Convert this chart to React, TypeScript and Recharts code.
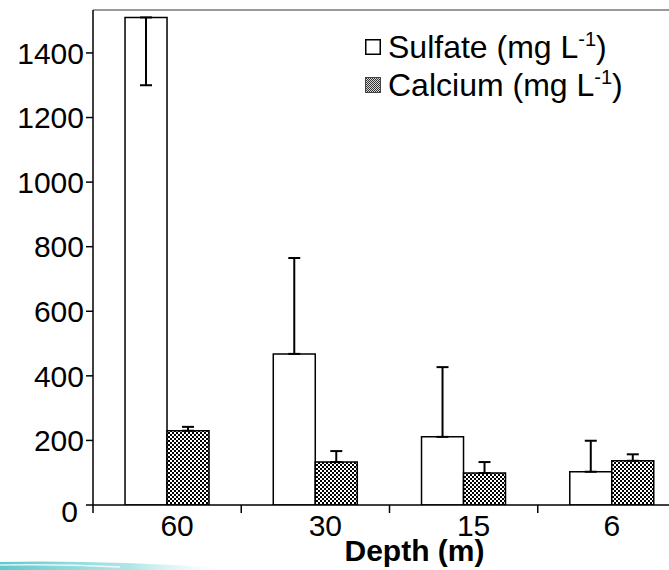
import { BarChart, Bar, XAxis, YAxis, ErrorBar, Legend, ReferenceLine } from "recharts";

const DEPTHS = ["60", "30", "15", "6"];
const SULFATE = [1510, 468, 211, 103];
const SULFATE_ERR: [number, number][] = [[210, 0], [0, 297], [0, 216], [0, 96]];
const CALCIUM = [230, 133, 99, 137];
const CALCIUM_ERR: [number, number][] = [[0, 12], [0, 34], [0, 34], [0, 20]];
const Y_TICKS = [0, 200, 400, 600, 800, 1000, 1200, 1400];
const Y_MAX = 1533;

const FONT = "Arial, 'Liberation Sans', sans-serif";

const data = DEPTHS.map((d, i) => ({
  depth: d,
  sulfate: SULFATE[i],
  sulfateErr: SULFATE_ERR[i],
  calcium: CALCIUM[i],
  calciumErr: CALCIUM_ERR[i],
}));

function YTick(props: any) {
  const { x, y, payload } = props;
  const isZero = payload.value === 0;
  return (
    <text
      x={isZero ? x - 6 : x}
      y={isZero ? y + 6 : y}
      dy="0.36em"
      textAnchor="end"
      fontSize={30}
      fontFamily={FONT}
      fill="#000"
    >
      {payload.value}
    </text>
  );
}

function XTick(props: any) {
  const { x, y, payload } = props;
  const half = payload.offset ?? 74;
  // the two-digit labels sit a little right of the category centre
  const shift = String(payload.value).length > 1 ? 10 : 0;
  return (
    <g>
      <line x1={x - half} y1={y - 10} x2={x - half} y2={y - 2} stroke="#000" strokeWidth={1.5} />
      <text x={x + shift} y={y} dy="0.7em" textAnchor="middle" fontSize={30} fontFamily={FONT} fill="#000">
        {payload.value}
      </text>
    </g>
  );
}

function LegendBox() {
  const row = { display: "flex", alignItems: "center", height: 38, whiteSpace: "nowrap" as const };
  const txt = { fontFamily: FONT, fontSize: 32, color: "#000", marginLeft: 7 };
  const sup = { fontSize: 20, verticalAlign: "super", lineHeight: 0 };
  return (
    <div>
      <div style={row}>
        <svg width={16} height={16}>
          <rect x={0.75} y={0.75} width={14.5} height={14.5} fill="#fff" stroke="#000" strokeWidth={1.5} />
        </svg>
        <span style={txt}>
          Sulfate (mg L<span style={sup}>-1</span>)
        </span>
      </div>
      <div style={row}>
        <svg width={16} height={16}>
          <defs>
            <pattern id="checkSmall" width={2} height={2} patternUnits="userSpaceOnUse">
              <rect width={2} height={2} fill="#d8d8d8" />
              <rect width={1} height={1} fill="#333" />
              <rect x={1} y={1} width={1} height={1} fill="#333" />
            </pattern>
          </defs>
          <rect x={0.5} y={0.5} width={15} height={15} fill="url(#checkSmall)" stroke="#444" strokeWidth={1} />
        </svg>
        <span style={txt}>
          Calcium (mg L<span style={sup}>-1</span>)
        </span>
      </div>
    </div>
  );
}

export default function App() {
  return (
    <div
      style={{
        position: "absolute",
        left: 0,
        top: 0,
        width: 669,
        height: 570,
        overflow: "hidden",
        background: "#fff",
      }}
    >
      <BarChart
        width={686}
        height={570}
        data={data}
        margin={{ top: 10, right: 0, bottom: 0, left: 0 }}
        barCategoryGap="21.6%"
        barGap={0}
      >
        <defs>
          <pattern id="checker" width={4} height={4} patternUnits="userSpaceOnUse">
            <rect width={4} height={4} fill="#fff" />
            <rect width={2} height={2} fill="#000" />
            <rect x={2} y={2} width={2} height={2} fill="#000" />
          </pattern>
        </defs>
        <XAxis
          dataKey="depth"
          tick={<XTick />}
          tickLine={false}
          tickSize={8}
          tickMargin={2}
          height={65}
          axisLine={{ stroke: "#000", strokeWidth: 1.5 }}
          label={{
            value: "Depth (m)",
            position: "insideBottom",
            offset: 9,
            dx: 25,
            fontSize: 30,
            fontWeight: "bold",
            fontFamily: FONT,
            fill: "#000",
          }}
        />
        <YAxis
          domain={[0, Y_MAX]}
          ticks={Y_TICKS}
          allowDataOverflow
          width={93}
          tick={<YTick />}
          tickSize={7}
          tickMargin={2}
          tickLine={{ stroke: "#000", strokeWidth: 1.5 }}
          axisLine={{ stroke: "#000", strokeWidth: 1.5 }}
        />
        <ReferenceLine y={Y_MAX} stroke="#999" strokeWidth={2} />
        <Legend
          layout="horizontal"
          verticalAlign="middle"
          align="center"
          content={() => <LegendBox />}
          wrapperStyle={{ left: 365, top: 28, width: 300 }}
        />
        <Bar dataKey="sulfate" fill="#fff" stroke="#000" strokeWidth={1.5} isAnimationActive={false}>
          <ErrorBar dataKey="sulfateErr" width={6} stroke="#000" strokeWidth={2} direction="y" />
        </Bar>
        <Bar dataKey="calcium" fill="url(#checker)" stroke="#000" strokeWidth={1.5} isAnimationActive={false}>
          <ErrorBar dataKey="calciumErr" width={6} stroke="#000" strokeWidth={2} direction="y" />
        </Bar>
      </BarChart>
      <svg
        width={230}
        height={14}
        style={{ position: "absolute", left: 0, top: 556 }}
      >
        <defs>
          <linearGradient id="swoosh" x1="0" y1="0" x2="1" y2="0">
            <stop offset="0%" stopColor="#4cc3c8" stopOpacity={0.9} />
            <stop offset="60%" stopColor="#7fd6d6" stopOpacity={0.6} />
            <stop offset="100%" stopColor="#bfeaea" stopOpacity={0} />
          </linearGradient>
        </defs>
        <path d="M0 6 Q100 4 220 12 L220 14 L0 14 Z" fill="url(#swoosh)" />
        <path d="M0 9 Q60 8 120 11" stroke="#fff" strokeWidth={1.5} fill="none" opacity={0.8} />
      </svg>
    </div>
  );
}
